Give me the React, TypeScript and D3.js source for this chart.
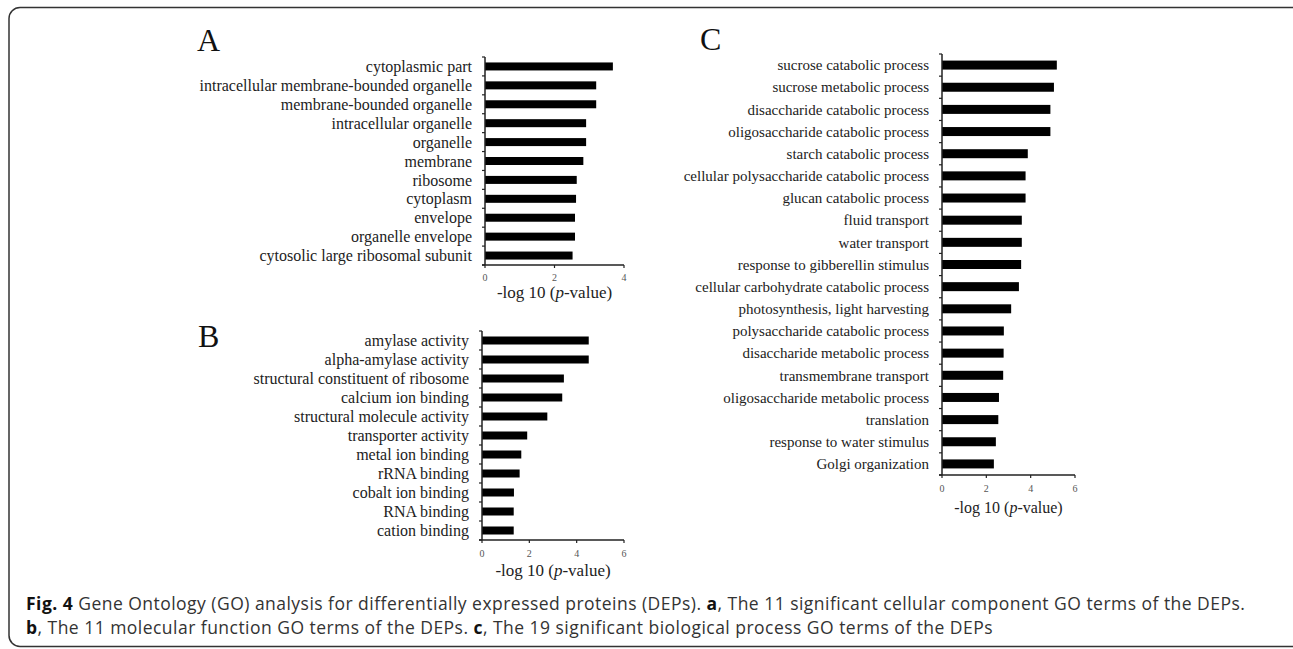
import React from 'react';
import * as d3 from 'd3';

// GO terms
const ccTerms = [
  'cytoplasmic part', 'intracellular membrane-bounded organelle', 'membrane-bounded organelle',
  'intracellular organelle', 'organelle', 'membrane', 'ribosome', 'cytoplasm', 'envelope',
  'organelle envelope', 'cytosolic large ribosomal subunit',
];
const ccValues = [3.68, 3.2, 3.2, 2.91, 2.91, 2.83, 2.64, 2.62, 2.59, 2.59, 2.52];

const mfTerms = [
  'amylase activity', 'alpha-amylase activity', 'structural constituent of ribosome',
  'calcium ion binding', 'structural molecule activity', 'transporter activity',
  'metal ion binding', 'rRNA binding', 'cobalt ion binding', 'RNA binding', 'cation binding',
];
const mfValues = [4.51, 4.51, 3.46, 3.39, 2.76, 1.91, 1.66, 1.59, 1.35, 1.34, 1.34];

const bpTerms = [
  'sucrose catabolic process', 'sucrose metabolic process', 'disaccharide catabolic process',
  'oligosaccharide catabolic process', 'starch catabolic process',
  'cellular polysaccharide catabolic process', 'glucan catabolic process', 'fluid transport',
  'water transport', 'response to gibberellin stimulus', 'cellular carbohydrate catabolic process',
  'photosynthesis, light harvesting', 'polysaccharide catabolic process',
  'disaccharide metabolic process', 'transmembrane transport', 'oligosaccharide metabolic process',
  'translation', 'response to water stimulus', 'Golgi organization',
];
const bpValues = [
  5.18, 5.05, 4.89, 4.89, 3.87, 3.77, 3.77, 3.6, 3.6, 3.57, 3.47, 3.12, 2.79, 2.78, 2.76,
  2.57, 2.54, 2.43, 2.34,
];

const ticksA = [0, 2, 4];
const ticks6 = [0, 2, 4, 6];

const serif = '"Liberation Serif", "Times New Roman", serif';

type PanelProps = {
  letter: string;
  letterX: number;
  letterY: number;
  terms: string[];
  values: number[];
  ticks: number[];
  x0: number;
  x1: number;
  y0: number;
  y1: number;
  tickDy: number;
  labelDy: number;
  fs: number;
  labelFs: number;
  barH: number;
};

function Panel(p: PanelProps) {
  const { terms, values, ticks, x0, x1, y0, y1 } = p;
  const x = d3.scaleLinear().domain([0, ticks[ticks.length - 1]]).range([x0, x1]);
  const y = d3.scaleBand<string>().domain(terms).range([y0, y1]).paddingInner(0).paddingOuter(0);
  const bounds = terms.map((t) => y(t) as number).concat([y1]);

  return (
    <g>
      <text x={p.letterX} y={p.letterY} fontFamily={serif} fontSize={32} fill="#111">{p.letter}</text>
      {terms.map((t, i) => (
        <g key={t}>
          <rect
            x={x(0)}
            y={(y(t) as number) + y.bandwidth() / 2 - p.barH / 2}
            width={x(values[i]) - x(0)}
            height={p.barH}
            fill="#000"
          />
          <text
            x={x(0) - 13}
            y={(y(t) as number) + y.bandwidth() / 2}
            dy="0.35em"
            textAnchor="end"
            fontFamily={serif}
            fontSize={p.fs}
            fill="#222"
          >
            {t}
          </text>
        </g>
      ))}
      {/* y axis */}
      <line x1={x0} x2={x0} y1={y0} y2={y1} stroke="#222" strokeWidth={1.5} />
      {bounds.map((b, i) => (
        <line key={i} x1={x0 - 3} x2={x0} y1={b} y2={b} stroke="#222" strokeWidth={1.2} />
      ))}
      {/* x axis */}
      <line x1={x0 - 3} x2={x1} y1={y1} y2={y1} stroke="#222" strokeWidth={1.5} />
      {ticks.map((t) => (
        <g key={t}>
          <line x1={x(t)} x2={x(t)} y1={y1} y2={y1 + 3} stroke="#222" strokeWidth={1.2} />
          <text x={x(t)} y={y1 + p.tickDy} dy="0.35em" textAnchor="middle" fontFamily={serif} fontSize={10} fill="#555">
            {t}
          </text>
        </g>
      ))}
      <text
        x={(x0 + x1) / 2}
        y={y1 + p.labelDy}
        dy="0.35em"
        textAnchor="middle"
        fontFamily={serif}
        fontSize={p.labelFs}
        fill="#222"
      >
        -log 10 (<tspan fontStyle="italic">p</tspan>-value)
      </text>
    </g>
  );
}

export default function App() {
  const capFont = '"Open Sans", "Noto Sans", sans-serif';
  return (
    <div style={{ position: 'absolute', left: 0, top: 0 }}>
      <svg width={1293} height={649} style={{ display: 'block', background: '#fff' }}>
        <rect x={9} y={7.5} width={1295} height={639} rx={11} ry={11} fill="none" stroke="#333" strokeWidth={1.5} />
        <Panel
          letter="A" letterX={197} letterY={51}
          terms={ccTerms} values={ccValues} ticks={ticksA}
          x0={485} x1={624} y0={57} y1={265} tickDy={12} labelDy={27}
          fs={16} labelFs={17} barH={8}
        />
        <Panel
          letter="B" letterX={198} letterY={347}
          terms={mfTerms} values={mfValues} ticks={ticks6}
          x0={482} x1={624} y0={331} y1={540} tickDy={13} labelDy={30}
          fs={16} labelFs={17} barH={8}
        />
        <Panel
          letter="C" letterX={700} letterY={50}
          terms={bpTerms} values={bpValues} ticks={ticks6}
          x0={942} x1={1075} y0={54} y1={475} tickDy={13} labelDy={32}
          fs={15} labelFs={16} barH={9}
        />
        <text x={26} y={610} fontFamily={capFont} fontSize={17.5} letterSpacing={0.47} fill="#333">
          <tspan fontWeight="bold" fill="#111">Fig. 4</tspan>
          <tspan> Gene Ontology (GO) analysis for differentially expressed proteins (DEPs). </tspan>
          <tspan fontWeight="bold" fill="#111">a</tspan>
          <tspan>, The 11 significant cellular component GO terms of the DEPs.</tspan>
        </text>
        <text x={26} y={634} fontFamily={capFont} fontSize={17.5} letterSpacing={0.47} fill="#333">
          <tspan fontWeight="bold" fill="#111">b</tspan>
          <tspan>, The 11 molecular function GO terms of the DEPs. </tspan>
          <tspan fontWeight="bold" fill="#111">c</tspan>
          <tspan>, The 19 significant biological process GO terms of the DEPs</tspan>
        </text>
      </svg>
    </div>
  );
}
